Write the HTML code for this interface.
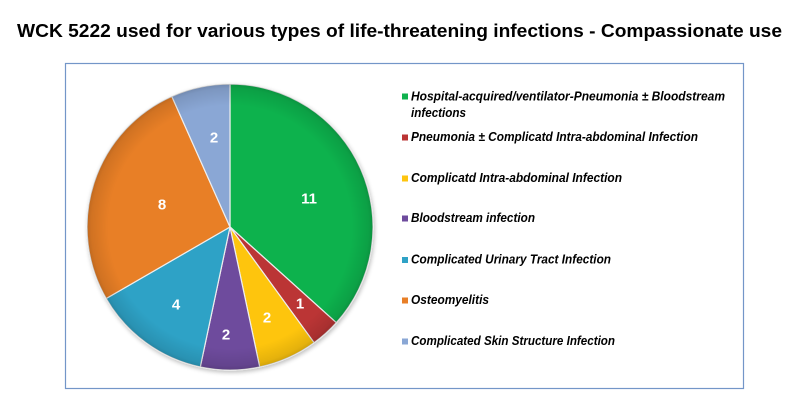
<!DOCTYPE html>
<html><head><meta charset="utf-8"><style>
html,body{margin:0;padding:0;background:#fff;width:800px;height:407px;overflow:hidden}
svg{display:block}
</style></head><body>
<svg width="800" height="407" viewBox="0 0 800 407" xmlns="http://www.w3.org/2000/svg">
<defs>
<radialGradient id="shade" cx="230" cy="227" r="143" gradientUnits="userSpaceOnUse">
<stop offset="0" stop-color="#000" stop-opacity="0"/>
<stop offset="0.85" stop-color="#000" stop-opacity="0"/>
<stop offset="0.97" stop-color="#000" stop-opacity="0.10"/>
<stop offset="1" stop-color="#000" stop-opacity="0.18"/>
</radialGradient>
<filter id="ds" x="-10%" y="-10%" width="120%" height="120%">
<feGaussianBlur in="SourceAlpha" stdDeviation="2"/>
<feOffset dx="1" dy="2"/>
<feComponentTransfer><feFuncA type="linear" slope="0.25"/></feComponentTransfer>
<feMerge><feMergeNode/><feMergeNode in="SourceGraphic"/></feMerge>
</filter>
</defs>
<text x="17" y="37" font-family="Liberation Sans, Arial, sans-serif" font-weight="bold" font-size="18" fill="#000" textLength="765" lengthAdjust="spacingAndGlyphs">WCK 5222 used for various types of life-threatening infections - Compassionate use</text>
<rect x="65.5" y="63.5" width="678" height="325" fill="#fff" stroke="#7396c8" stroke-width="1.2"/>
<g filter="url(#ds)" stroke="#eeeeee" stroke-width="1.2" stroke-linejoin="round">
<path d="M230,227 L230,84 A143,143 0 0 1 336.3,322.7 Z" fill="#0fb24e"/>
<path d="M230,227 L336.3,322.7 A143,143 0 0 1 314.1,342.7 Z" fill="#bb3434"/>
<path d="M230,227 L314.1,342.7 A143,143 0 0 1 259.7,366.9 Z" fill="#fec50f"/>
<path d="M230,227 L259.7,366.9 A143,143 0 0 1 200.3,366.9 Z" fill="#6e4b9d"/>
<path d="M230,227 L200.3,366.9 A143,143 0 0 1 106.2,298.5 Z" fill="#2fa2c6"/>
<path d="M230,227 L106.2,298.5 A143,143 0 0 1 171.8,96.4 Z" fill="#e87f27"/>
<path d="M230,227 L171.8,96.4 A143,143 0 0 1 230,84 Z" fill="#8aa7d5"/>
</g>
<circle cx="230" cy="227" r="143" fill="url(#shade)"/>
<g font-family="Liberation Sans, Arial, sans-serif" font-weight="bold" font-size="15" fill="#fff" text-anchor="middle">
<text x="309" y="203.5">11</text>
<text x="300" y="308.5">1</text>
<text x="267" y="322.5">2</text>
<text x="226" y="339.5">2</text>
<text x="176" y="309.5">4</text>
<text x="162" y="209.5">8</text>
<text x="214" y="142.5">2</text>
</g>
<g>
<rect x="402" y="93.5" width="6" height="6" fill="#0fb24e"/>
<rect x="402" y="134.5" width="6" height="6" fill="#bb3434"/>
<rect x="402" y="175.5" width="6" height="6" fill="#fec50f"/>
<rect x="402" y="215.5" width="6" height="6" fill="#6e4b9d"/>
<rect x="402" y="257" width="6" height="6" fill="#2fa2c6"/>
<rect x="402" y="297.5" width="6" height="6" fill="#e87f27"/>
<rect x="402" y="338.5" width="6" height="6" fill="#8aa7d5"/>
</g>
<g font-family="Liberation Sans, Arial, sans-serif" font-weight="bold" font-style="italic" font-size="12.5" fill="#000" lengthAdjust="spacingAndGlyphs">
<text x="411" y="100.5" textLength="314" lengthAdjust="spacingAndGlyphs">Hospital-acquired/ventilator-Pneumonia ± Bloodstream</text>
<text x="411" y="117" textLength="55" lengthAdjust="spacingAndGlyphs">infections</text>
<text x="411" y="141" textLength="287" lengthAdjust="spacingAndGlyphs">Pneumonia ± Complicatd Intra-abdominal Infection</text>
<text x="411" y="182" textLength="211" lengthAdjust="spacingAndGlyphs">Complicatd Intra-abdominal Infection</text>
<text x="411" y="222" textLength="124" lengthAdjust="spacingAndGlyphs">Bloodstream infection</text>
<text x="411" y="263.5" textLength="200" lengthAdjust="spacingAndGlyphs">Complicated Urinary Tract Infection</text>
<text x="411" y="304" textLength="78" lengthAdjust="spacingAndGlyphs">Osteomyelitis</text>
<text x="411" y="345" textLength="204" lengthAdjust="spacingAndGlyphs">Complicated Skin Structure Infection</text>
</g>
</svg>
</body></html>
